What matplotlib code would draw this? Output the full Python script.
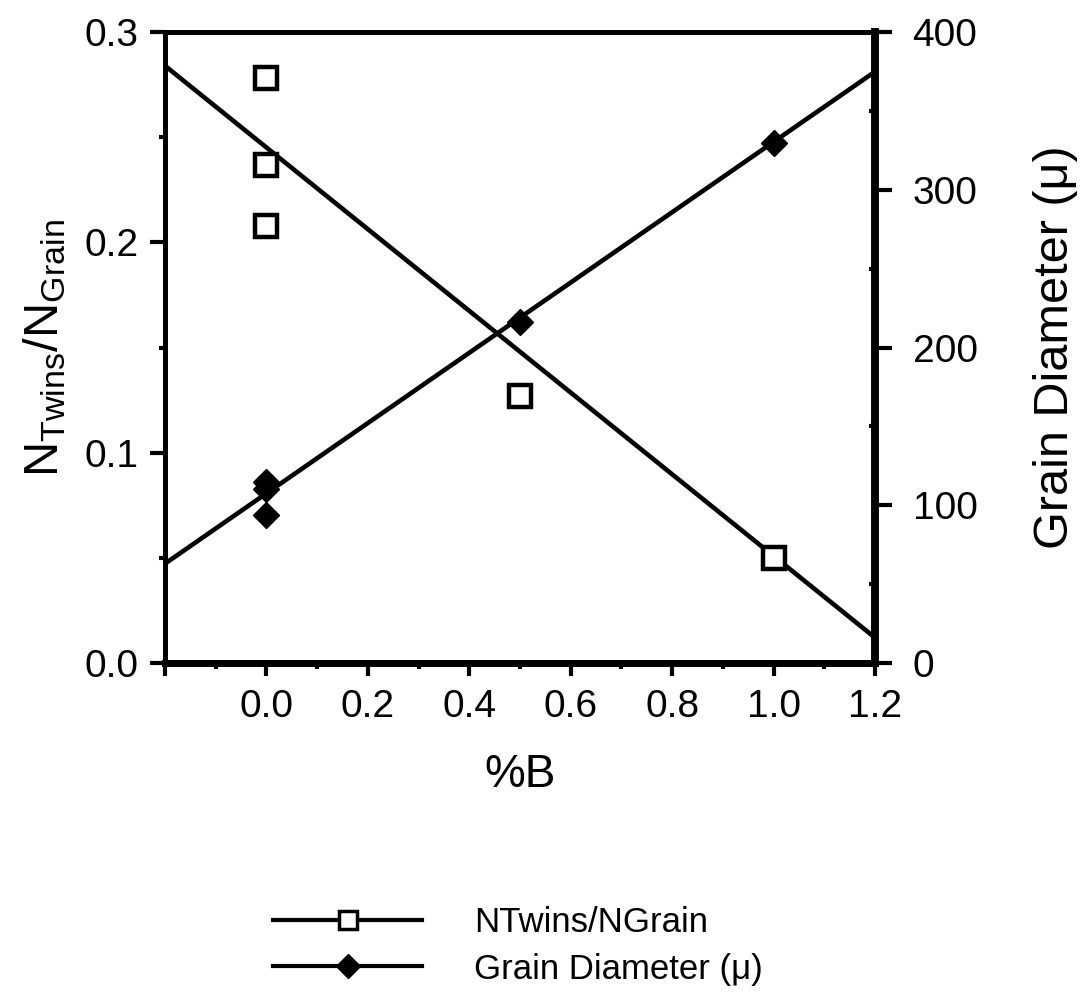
import numpy as np
import matplotlib
matplotlib.use("Agg")
import matplotlib.pyplot as plt
from matplotlib.lines import Line2D
from matplotlib.ticker import MultipleLocator, FixedLocator

plt.rcParams['font.family'] = ['Liberation Sans', 'DejaVu Sans']
plt.rcParams['mathtext.default'] = 'regular'

# Data
boron_twins = [0.0, 0.0, 0.0, 0.5, 1.0]
twins_ratio = [0.278, 0.237, 0.208, 0.127, 0.050]
boron_diam = [0.0, 0.0, 0.0, 0.5, 1.0]
grain_diam = [115, 110, 94, 216, 330]
# fitted line end points (x = -0.2 and x = 1.2)
fit_x = [-0.2, 1.2]
twins_fit = [0.284, 0.012]
diam_fit = [63, 375]

x_ticks = [0.0, 0.2, 0.4, 0.6, 0.8, 1.0, 1.2]
x_ticklabels = ['0.0', '0.2', '0.4', '0.6', '0.8', '1.0', '1.2']
left_ticks = [0.0, 0.1, 0.2, 0.3]
right_ticks = [0, 100, 200, 300, 400]

fig = plt.figure(figsize=(10.83, 10.06), dpi=100)
ax = fig.add_axes([0.1524, 0.341, 0.8080 - 0.1524, 0.968 - 0.341])
ax2 = ax.twinx()

ax.plot(fit_x, twins_fit, color='black', lw=3.3, solid_capstyle='butt')
ax.plot(boron_twins, twins_ratio, linestyle='none', marker='s', ms=16.5,
        mfc='white', mec='black', mew=3.2)
ax2.plot(fit_x, diam_fit, color='black', lw=3.3, solid_capstyle='butt')
ax2.plot(boron_diam, grain_diam, linestyle='none', marker='D', ms=13,
         mfc='black', mec='black')

ax.set_xlim(-0.2, 1.2)
ax.set_ylim(0, 0.3)
ax2.set_ylim(0, 400)

ax.xaxis.set_major_locator(FixedLocator([-0.2] + x_ticks))
ax.set_xticklabels([''] + x_ticklabels)
ax.xaxis.set_minor_locator(MultipleLocator(0.1))
ax.set_yticks(left_ticks)
ax.set_yticklabels(['0.0', '0.1', '0.2', '0.3'])
ax.yaxis.set_minor_locator(MultipleLocator(0.05))
ax2.set_yticks(right_ticks)
ax2.set_yticklabels([str(v) for v in right_ticks])
ax2.yaxis.set_minor_locator(MultipleLocator(50))

ax.tick_params(axis='y', which='major', direction='out', length=11, width=3,
               labelsize=28, pad=8)
ax.tick_params(axis='x', which='major', direction='out', length=9, width=3,
               labelsize=28, pad=10)
ax.tick_params(axis='both', which='minor', direction='out', length=4.5, width=3)
ax2.tick_params(axis='y', which='major', direction='out', length=12, width=3,
                labelsize=28, pad=15)
ax2.tick_params(axis='y', which='minor', direction='in', length=4, width=3)

for a in (ax, ax2):
    a.spines['left'].set_linewidth(3.5)
    a.spines['top'].set_linewidth(3.5)
    a.spines['bottom'].set_linewidth(5)
    a.spines['right'].set_linewidth(5.5)

ax.set_xlabel('%B', fontsize=33, labelpad=20)
ax.set_ylabel('N$_{Twins}$/N$_{Grain}$', fontsize=35, labelpad=12)
ax2.set_ylabel('Grain Diameter (\u03bc)', fontsize=35, labelpad=40)

handles = [
    Line2D([], [], color='black', lw=3, marker='s', ms=13, mfc='white',
           mec='black', mew=2.5),
    Line2D([], [], color='black', lw=3, marker='D', ms=12, mfc='black',
           mec='black'),
]
fig.legend(handles, ['NTwins/NGrain', 'Grain Diameter (\u03bc)'],
           loc='center left', bbox_to_anchor=(0.252, 0.06), frameon=False,
           borderpad=0, borderaxespad=0,
           fontsize=25, handlelength=4.3, handletextpad=1.5, labelspacing=0.4)

fig.savefig('out.png', dpi=100)
